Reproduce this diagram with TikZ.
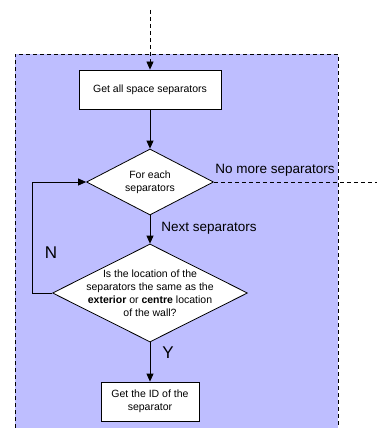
\documentclass[tikz,border=0pt]{standalone}
\usepackage{fontspec}
\setmainfont{Liberation Sans}
\usetikzlibrary{arrows.meta,shapes.geometric}
\definecolor{zonefill}{RGB}{190,190,255}
\tikzset{
	stepbox/.style={draw, fill=white, line width=0.8pt, minimum height=39pt, inner sep=0pt, align=center, font=\fontsize{10.5}{13}\selectfont},
	decision/.style={draw, fill=white, shape=diamond, line width=0.8pt, inner sep=0pt},
	flow/.style={line width=0.8pt, -{Triangle[length=8pt,width=7pt]}},
	dashline/.style={line width=0.8pt, dash pattern=on 4pt off 3pt},
	bigtxt/.style={font=\fontsize{13.5}{15}\selectfont},
	choicetxt/.style={font=\fontsize{17}{19}\selectfont},
	smalltxt/.style={align=center, font=\fontsize{10.5}{13}\selectfont},
}

\begin{document}
\begin{tikzpicture}[x=1pt, y=-1pt]
		%%%%% START %%%%%
		\useasboundingbox (0, 0) rectangle (377, 428);
		
		% shaded zone
		\fill[zonefill] (15, 54) rectangle (338, 428);
		\draw[dashline] (15, 428) -- (15, 54) -- (338, 54) -- (338, 428);
		
		\coordinate (entry) at (150, 10);
		\coordinate (exit) at (377, 182);
		
		\node[stepbox, minimum width=142pt] (getall) at (150, 89.5) {Get all space separators};
		\node[decision, minimum width=127pt, minimum height=66pt,
			label={[smalltxt]center:For each\\separators}] (foreach) at (150, 182) {};
		\node[decision, minimum width=195pt, minimum height=98pt,
			label={[smalltxt]center:Is the location of the\\separators the same as the\\\textbf{exterior} or \textbf{centre} location\\of the wall?}] (check) at (150, 293) {};
		\node[stepbox, minimum width=98pt] (getid) at (150, 401.5) {Get the ID of the\\separator};
		
		\draw[flow, dashline] (entry) -- (getall.north);
		\draw[flow] (getall) -- (foreach.north);
		\draw[flow] (foreach) -- (check.north);
		\draw[flow] (check) -- (getid);
		\draw[flow] (check.west) -- ++(-20, 0) |- (foreach.west);
		\draw[dashline] (foreach.east) -- (exit);
		
		\node[bigtxt] (nomore) at (275, 170) {No more separators};
		\node[bigtxt] (nextsep) at (209, 228) {Next separators};
		\node[choicetxt] (no) at (51, 253) {N};
		\node[choicetxt] (yes) at (168, 353) {Y};
		%%%%% END %%%%%
\end{tikzpicture}
\end{document}
